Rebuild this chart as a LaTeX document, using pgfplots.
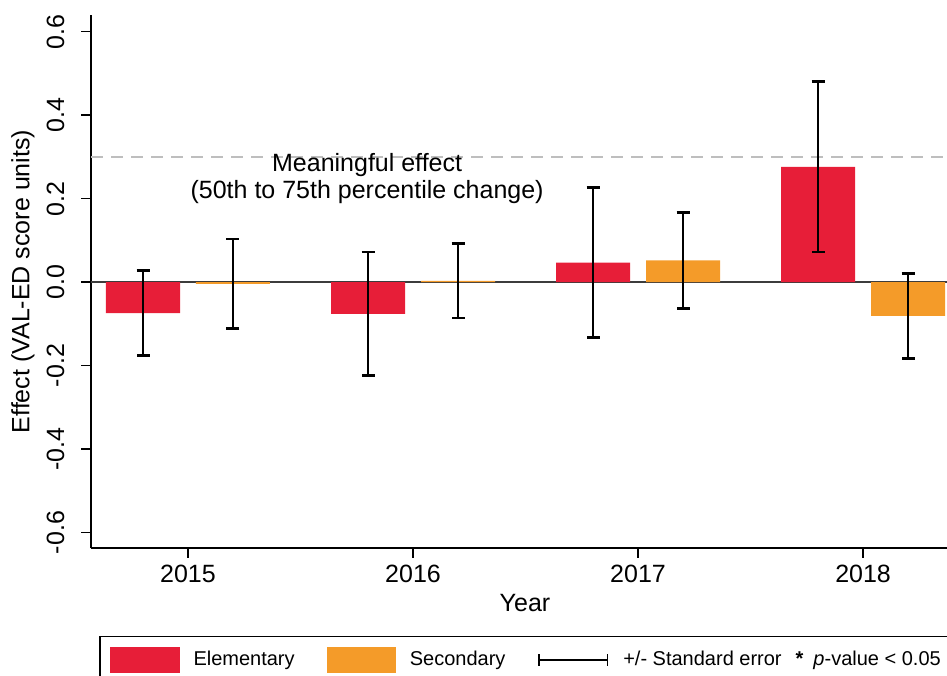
\documentclass[border=0pt]{standalone}
\usepackage{fontspec}
\setmainfont{Liberation Sans}
\usepackage{pgfplots}
\usepackage{pgfplotstable}
\pgfplotsset{compat=1.18}

\definecolor{elem}{RGB}{231,30,56}
\definecolor{secd}{RGB}{244,155,41}
\definecolor{zeroline}{RGB}{60,60,60}
\definecolor{meaning}{RGB}{190,190,190}

% year, estimate, standard error
\pgfplotstableread{
year  val     err
2015  -0.074  0.1015
2016  -0.076  0.148
2017   0.047  0.179
2018   0.276  0.204
}\elementary
\pgfplotstableread{
year  val     err
2015  -0.004  0.107
2016   0.003  0.089
2017   0.052  0.1145
2018  -0.081  0.1015
}\secondary

\pgfplotsset{
    effbar/.style={ybar, bar width=0.329, bar shift=0pt, fill=#1, draw=none, forget plot,
        error bars/.cd, y dir=both, y explicit,
        error bar style={line width=1.35pt, black},
        error mark options={rotate=90, mark size=3.25pt, line width=1.35pt, black}},
}

\begin{document}
\begin{tikzpicture}
\path[use as bounding box] (0,0) rectangle (473.5pt,337.5pt);
\begin{axis}[
    at={(45.5pt,63.5pt)}, anchor=south west,
    scale only axis,
    width=428pt, height=266.5pt,
    xmin=2014.569, xmax=2018.373,
    ymin=-0.637, ymax=0.640,
    axis x line*=bottom, axis y line*=left,
    axis line style={line width=0.75pt, black},
    tick align=outside,
    major tick length=4.8pt,
    xtick={2015,2016,2017,2018},
    xticklabels={2015,2016,2017,2018},
    ytick={-0.6,-0.4,-0.2,0,0.2,0.4,0.6},
    yticklabels={-0.6,-0.4,-0.2,0.0,0.2,0.4,0.6},
    tick style={line width=0.75pt, black},
    ticklabel style={font=\fontsize{12.5}{14}\selectfont},
    yticklabel style={rotate=90, anchor=south},
    yticklabel shift=5pt,
    xlabel={Year},
    ylabel={Effect (VAL-ED score units)},
    every axis x label/.style={at={(axis description cs:0.507,0)}, yshift=-27.5pt,
        anchor=center, font=\fontsize{12.5}{14}\selectfont},
    every axis y label/.style={at={(axis description cs:0,0.5)}, xshift=-34pt,
        rotate=90, anchor=center, font=\fontsize{12.5}{14}\selectfont},
    clip=false,
    legend columns=3,
    legend style={
        at={(0.0097,-0.1645)}, anchor=north west,
        draw=black, line width=0.6pt, inner sep=5.2pt,
        font=\fontsize{10}{12}\selectfont,
        nodes={inner sep=0pt},
        /tikz/every odd column/.append style={column sep=7pt},
        /tikz/every even column/.append style={column sep=16pt},
    },
]
% zero line and meaningful-effect line
\addplot[zeroline, line width=1pt, forget plot] coordinates {(2014.569,0) (2018.373,0)};
\addplot[meaning, line width=1pt, dash pattern=on 6pt off 4pt, forget plot]
    coordinates {(2014.569,0.3) (2018.373,0.3)};

\addplot[effbar=elem] table[x expr=\thisrow{year}-0.2, y=val, y error=err] {\elementary};
\addplot[effbar=secd] table[x expr=\thisrow{year}+0.2, y=val, y error=err] {\secondary};

\node[align=center, font=\fontsize{12.5}{13.5}\selectfont] at (axis cs:2015.796,0.248)
    {Meaningful effect\\(50th to 75th percentile change)};

\addlegendimage{legend image code/.code={\fill[elem] (0pt,-6.4pt) rectangle (34pt,6.4pt);}}
\addlegendentry{Elementary}
\addlegendimage{legend image code/.code={\fill[secd] (0pt,-6.4pt) rectangle (34pt,6.4pt);}}
\addlegendentry{Secondary}
\addlegendimage{legend image code/.code={
    \draw[black, line width=0.9pt] (0pt,0pt) -- (35pt,0pt);
    \draw[black, line width=0.9pt] (0.45pt,-2.8pt) -- (0.45pt,2.8pt);
    \draw[black, line width=0.9pt] (34.55pt,-2.8pt) -- (34.55pt,2.8pt);}}
\addlegendentry{+/- Standard error\hspace{7pt}\textbf{*}\hspace{5pt}\textit{p}-value < 0.05\hspace{20pt}}
\end{axis}
\end{tikzpicture}
\end{document}
